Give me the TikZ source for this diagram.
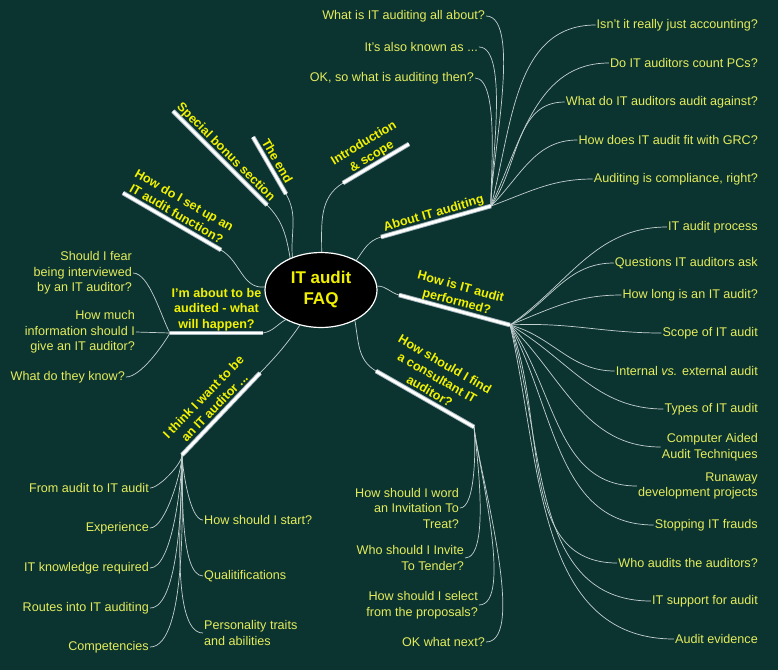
\documentclass[tikz,border=0pt]{standalone}
\usepackage{fontspec}
\setmainfont{Liberation Sans}
\usetikzlibrary{shapes.geometric, calc}

\definecolor{bgteal}{HTML}{0B3431}
\definecolor{twiggray}{HTML}{C4D0D0}
\definecolor{baredge}{HTML}{A4B4BC}
\definecolor{leafyellow}{HTML}{E4EC5C}
\definecolor{branchyellow}{HTML}{F2F200}
\definecolor{coreyellow}{HTML}{F0F000}

\begin{document}
\begin{tikzpicture}[x=1pt, y=-1pt,
    twig/.style={draw=twiggray, line width=0.7pt},
    bar/.style={draw=baredge, double=white, double distance=2.8pt, line width=0.9pt},
    branch/.style={text=branchyellow, font=\bfseries\fontsize{12.6}{15.5}\selectfont, align=center, anchor=south,
                   inner sep=1.5pt, text depth=3pt},
    leaf/.style={text=leafyellow, font=\fontsize{12.6}{15.5}\selectfont, inner sep=1pt}]

    % --- 1. 背景 ---
    \useasboundingbox (0,0) rectangle (778,670);
    \fill[bgteal] (0,0) rectangle (778,670);

    % --- 2. 中心の楕円 ---
    \node[ellipse, draw=white, line width=1.2pt, fill=black, minimum width=112pt, minimum height=75pt,
          inner sep=0pt, align=center, text=coreyellow, font=\bfseries\fontsize{17}{21}\selectfont]
          (faq) at (321,290) {IT audit\\FAQ};

    % --- 3. 枝のバー端点 ---
    \coordinate (specialA) at (173,111);  \coordinate (specialB) at (267,205);
    \coordinate (endA) at (253,137);      \coordinate (endB) at (286,194);
    \coordinate (introA) at (343,183);    \coordinate (introB) at (409,144);
    \coordinate (aboutA) at (381,237);    \coordinate (aboutB) at (491,206);
    \coordinate (perfA) at (399,295);     \coordinate (perfB) at (510,325);
    \coordinate (findA) at (376,371);     \coordinate (findB) at (474,427);
    \coordinate (thinkA) at (182,455);    \coordinate (thinkB) at (260,373);
    \coordinate (auditedA) at (170,333);  \coordinate (auditedB) at (263,333);
    \coordinate (setupA) at (123,193);    \coordinate (setupB) at (221,250);

    % --- 4. 葉 ---
    % About IT auditing
    \node[leaf, anchor=east] (whatis) at (486,16) {What is IT auditing all about?};
    \node[leaf, anchor=east] (aka) at (479,47) {It's also known as ...};
    \node[leaf, anchor=east] (okso) at (475,78) {OK, so what is auditing then?};
    \node[leaf, anchor=east] (isnt) at (759,25) {Isn't it really just accounting?};
    \node[leaf, anchor=east] (count) at (759,63) {Do IT auditors count PCs?};
    \node[leaf, anchor=east] (against) at (759,102) {What do IT auditors audit against?};
    \node[leaf, anchor=east] (grc) at (759,140) {How does IT audit fit with GRC?};
    \node[leaf, anchor=east] (compl) at (759,179) {Auditing is compliance, right?};

    % How is IT audit performed?
    \foreach \name/\y/\txt in {process/227/{IT audit process}, ask/263/{Questions IT auditors ask},
        long/295/{How long is an IT audit?}, scope/333/{Scope of IT audit},
        intext/371/{Internal \textit{vs.} external audit}, types/409/{Types of IT audit},
        caat/447/{Computer Aided\\Audit Techniques}, runaway/486/{Runaway\\development projects},
        frauds/525/{Stopping IT frauds}, who/563/{Who audits the auditors?},
        support/601/{IT support for audit}, evidence/639/{Audit evidence}}
        \node[leaf, anchor=east, align=right] (\name) at (759,\y) {\txt};

    % How should I find a consultant IT auditor?
    \node[leaf, anchor=east, align=right] (word) at (460,508) {How should I word\\an Invitation To\\Treat?};
    \node[leaf, anchor=east, align=right] (tender) at (465,558) {Who should I Invite\\To Tender?};
    \node[leaf, anchor=east, align=right] (select) at (479,605) {How should I select\\from the proposals?};
    \node[leaf, anchor=east] (next) at (486,642) {OK what next?};

    % I think I want to be an IT auditor ...
    \foreach \name/\y/\txt in {fromaudit/488/{From audit to IT audit}, experience/528/{Experience},
        knowledge/568/{IT knowledge required}, routes/608/{Routes into IT auditing},
        competencies/647/{Competencies}}
        \node[leaf, anchor=east] (\name) at (150,\y) {\txt};
    \node[leaf, anchor=west] (start) at (203,520) {How should I start?};
    \node[leaf, anchor=west] (qualif) at (203,576) {Qualitifications};
    \node[leaf, anchor=west, align=left] (personality) at (203,633) {Personality traits\\and abilities};

    % I'm about to be audited
    \node[leaf, anchor=east, align=right] (fear) at (133,273) {Should I fear\\being interviewed\\by an IT auditor?};
    \node[leaf, anchor=east, align=right] (much) at (136,332) {How much\\information should I\\give an IT auditor?};
    \node[leaf, anchor=east] (know) at (126,377) {What do they know?};

    % --- 5. 接続線 ---
    % 中心 -> 枝
    \draw[twig] (specialB) to[out=-45, in=100] (faq.134);
    \draw[twig] (endB) to[out=-60, in=95] (faq.131);
    \draw[twig] (introA) to[out=-149, in=90] (faq.89);
    \draw[twig] (faq.40) to[out=55, in=-164] (aboutA);
    \draw[twig] (faq.4) to[out=0, in=165] (perfA);
    \draw[twig] (faq.-42) to[out=-80, in=150] (findA);
    \draw[twig] (faq.-121) to[out=-125, in=46] (thinkB);
    \draw[twig] (faq.-140) to[out=-150, in=10] (auditedB);
    \draw[twig] (faq.177) to[out=185, in=-30] (setupB);

    % 枝 -> 葉
    \foreach \leaf in {whatis, aka, okso}
        \draw[twig] (aboutB) to[out=92, in=0, looseness=0.5] (\leaf.east);
    \foreach \leaf/\ang in {isnt/75, count/65, against/55, grc/45, compl/20}
        \draw[twig] (aboutB) to[out=\ang, in=180] (\leaf.west);
    \foreach \leaf/\ang in {process/35, ask/30, long/22, scope/3, intext/-15, types/-30,
        caat/-45, runaway/-55, frauds/-62, who/-68, support/-73, evidence/-77}
        \draw[twig] (perfB) to[out=\ang, in=180] (\leaf.west);
    \foreach \leaf in {word, tender, select, next}
        \draw[twig] (findB) to[out=-84, in=0, looseness=0.5] (\leaf.east);
    \foreach \leaf in {fromaudit, experience, knowledge, routes, competencies}
        \draw[twig] (thinkA) to[out=-90, in=0, looseness=0.5] (\leaf.east);
    \foreach \leaf in {start, qualif, personality}
        \draw[twig] (thinkA) to[out=-88, in=180, looseness=0.5] (\leaf.west);
    \draw[twig] (auditedA) to[out=120, in=0, looseness=0.6] (fear.east);
    \draw[twig] (auditedA) -- (much.east);
    \draw[twig] (auditedA) to[out=-120, in=0, looseness=0.6] (know.east);

    % --- 6. 枝のバーとラベル ---
    \foreach \arm in {special, end, intro, about, perf, find, think, audited, setup}
        \draw[bar] (\arm A) -- (\arm B);

    \node[branch, rotate=-45] (special) at ($(specialA)!0.5!(specialB)$) {Special bonus section};
    \node[branch, rotate=-60] (theend) at ($(endA)!0.5!(endB)$) {The end};
    \node[branch, rotate=31] (intro) at ($(introA)!0.5!(introB)$) {Introduction\\\& scope};
    \node[branch, rotate=16] (about) at ($(aboutA)!0.5!(aboutB)$) {About IT auditing};
    \node[branch, rotate=-15] (perf) at ($(perfA)!0.5!(perfB)$) {How is IT audit\\performed?};
    \node[branch, rotate=-30] (find) at ($(findA)!0.5!(findB)$) {How should I find\\a consultant IT\\auditor?};
    \node[branch, rotate=46] (think) at ($(thinkA)!0.5!(thinkB)$) {I think I want to be\\an IT auditor ...};
    \node[branch] (audited) at ($(auditedA)!0.5!(auditedB)$) {I'm about to be\\audited - what\\will happen?};
    \node[branch, rotate=-30] (setup) at ($(setupA)!0.5!(setupB)$) {How do I set up an\\IT audit function?};

\end{tikzpicture}
\end{document}
